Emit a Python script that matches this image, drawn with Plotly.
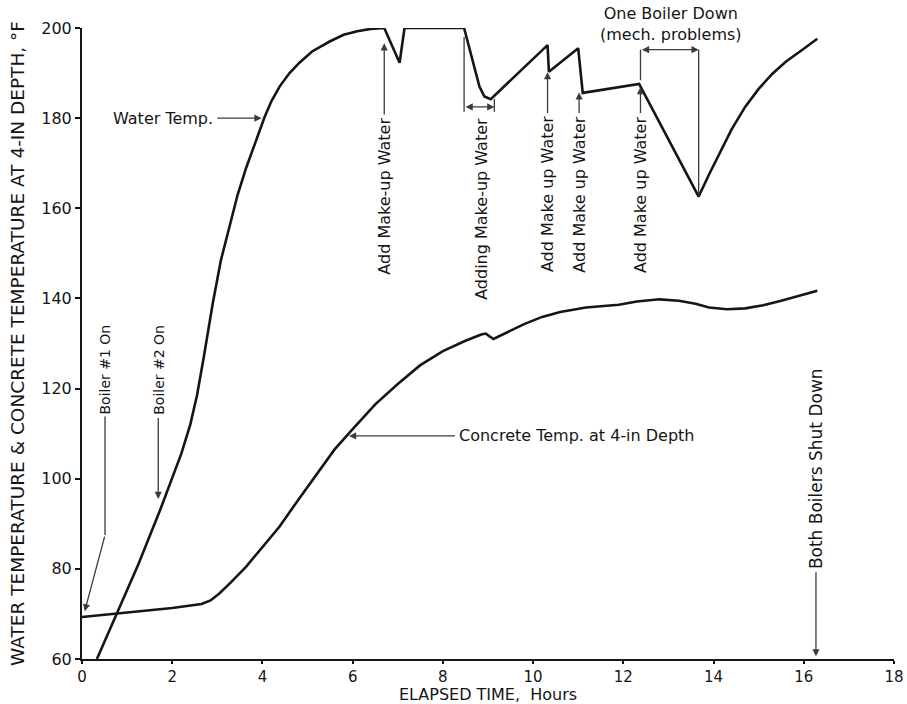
import plotly.graph_objects as go

# ---------------- data ----------------
water_time = [0.33, 0.77, 1.25, 1.73, 2.00, 2.20, 2.40, 2.55, 2.70, 2.90, 3.08, 3.27, 3.45,
              3.64, 3.85, 4.05, 4.20, 4.38, 4.60, 4.82, 5.10, 5.49, 5.80, 6.10, 6.40,
              6.70, 7.04, 7.15, 8.47, 8.58, 8.70, 8.81, 8.92, 9.06, 10.32, 10.35, 11.00,
              11.10, 12.35, 13.67, 13.90, 14.12, 14.40, 14.70, 15.00, 15.30, 15.60,
              16.00, 16.30]
water_temp = [60.0, 70.0, 81.0, 93.0, 100.0, 105.5, 112.0, 118.5, 127.0, 139.0, 148.5, 156.0, 163.0,
              169.0, 175.0, 180.3, 183.8, 187.0, 190.0, 192.3, 194.8, 197.0, 198.5, 199.3, 199.8,
              200.0, 192.3, 200.0, 200.0, 195.8, 190.8, 187.0, 184.8, 184.2, 196.2, 190.3, 195.5,
              185.6, 187.6, 162.6, 167.5, 172.0, 177.5, 182.5, 186.5, 189.8, 192.5,
              195.4, 197.6]

concrete_time = [0.0, 1.0, 2.0, 2.65, 2.85, 3.05, 3.30, 3.64, 4.00, 4.38, 4.80, 5.27,
                 5.60, 6.00, 6.50, 7.00, 7.50, 8.00, 8.50, 8.85, 8.95, 9.12, 9.40, 9.80,
                 10.20, 10.60, 11.17, 11.90, 12.30, 12.80, 13.23, 13.60, 13.90, 14.30,
                 14.70, 15.10, 15.50, 15.90, 16.30]
concrete_temp = [69.3, 70.3, 71.3, 72.2, 73.0, 74.6, 77.0, 80.5, 84.8, 89.4, 95.4, 101.9,
                 106.5, 111.0, 116.5, 121.0, 125.2, 128.3, 130.6, 132.0, 132.2, 131.0, 132.3, 134.3,
                 135.9, 137.0, 138.0, 138.6, 139.3, 139.8, 139.5, 138.8, 138.0, 137.6,
                 137.8, 138.5, 139.5, 140.6, 141.7]

x_tick_values = [0, 2, 4, 6, 8, 10, 12, 14, 16, 18]
x_tick_labels = ["0", "2", "4", "6", "8", "10", "12", "14", "16", "18"]
y_tick_values = [60, 80, 100, 120, 140, 160, 180, 200]
y_tick_labels = ["60", "80", "100", "120", "140", "160", "180", "200"]

# event markers (hours)
boiler1_on = 0.51
boiler2_on = 1.69
makeup_1 = 6.70
makeup_2_start, makeup_2_end = 8.47, 9.14
makeup_3 = 10.32
makeup_4 = 11.02
makeup_5 = 12.38
boiler_down_end = 13.67
shut_down = 16.27

FONT = "DejaVu Sans, Verdana, sans-serif"
INK = "#151515"
ARROW = "#3a3a3a"
Y0, Y1 = 60, 200

fig = go.Figure()
fig.add_trace(go.Scatter(x=water_time, y=water_temp, mode="lines",
                         line=dict(color=INK, width=2.6), name="Water Temp.",
                         showlegend=False, hoverinfo="skip"))
fig.add_trace(go.Scatter(x=concrete_time, y=concrete_temp, mode="lines",
                         line=dict(color=INK, width=2.6), name="Concrete Temp. at 4-in Depth",
                         showlegend=False, hoverinfo="skip"))


def text(x, y, s, angle=0, size=16, xanchor="center", yanchor="middle", paper_y=False):
    fig.add_annotation(x=x, y=(y - Y0) / (Y1 - Y0) if paper_y else y, xref="x",
                       yref="paper" if paper_y else "y", text=s, showarrow=False,
                       textangle=angle, xanchor=xanchor, yanchor=yanchor,
                       font=dict(family=FONT, size=size, color=INK))


def arrow(x0, y0, x1, y1, both=False):
    fig.add_annotation(x=x1, y=y1, ax=x0, ay=y0, xref="x", yref="y", axref="x", ayref="y",
                       text="", showarrow=True, arrowhead=2, arrowsize=1.1, arrowwidth=1.3,
                       arrowcolor=ARROW, arrowside="end+start" if both else "end",
                       startarrowhead=2, startarrowsize=1.1)


def seg(x0, y0, x1, y1):
    fig.add_shape(type="line", x0=x0, y0=y0, x1=x1, y1=y1, xref="x", yref="y",
                  line=dict(color=ARROW, width=1.3))


# Water temp label
text(2.95, 180, "Water Temp.", xanchor="right")
arrow(2.97, 180, 3.98, 180)

# Concrete label
text(8.32, 109.5, "Concrete Temp. at 4-in Depth", xanchor="left")
arrow(8.30, 109.5, 5.92, 109.5)

# Boiler #1 On
text(boiler1_on, 113.8, "Boiler #1 On", angle=-90, yanchor="bottom", size=14)
seg(boiler1_on, 113.8, boiler1_on, 87.5)
arrow(boiler1_on, 87.5, 0.06, 70.6)

# Boiler #2 On
text(boiler2_on, 113.8, "Boiler #2 On", angle=-90, yanchor="bottom", size=14)
arrow(boiler2_on, 113.8, boiler2_on, 95.5)

# Add Make-up Water (first)
text(makeup_1, 180.5, "Add Make-up Water", angle=-90, yanchor="top")
arrow(makeup_1, 180.5, makeup_1, 196.6)

# Adding Make-up Water (interval)
text((makeup_2_start + makeup_2_end) / 2 + 0.06, 180.5, "Adding Make-up Water",
     angle=-90, yanchor="top")
seg(makeup_2_start, 198.0, makeup_2_start, 181.4)
seg(makeup_2_end, 184.2, makeup_2_end, 181.4)
arrow(makeup_2_start, 182.5, makeup_2_end, 182.5, both=True)

# Add Make up Water (three)
for t, tip in [(makeup_3, 190.2), (makeup_4, 185.7), (makeup_5, 186.9)]:
    text(t, 180.8, "Add Make up Water", angle=-90, yanchor="top")
    arrow(t, 180.8, t, tip)

# One Boiler Down bracket
text(13.05, 200.8, "One Boiler Down<br>(mech. problems)", paper_y=True)
seg(makeup_5, 195.2, makeup_5, 188.4)
seg(boiler_down_end, 195.2, boiler_down_end, 162.8)
arrow(makeup_5, 195.2, boiler_down_end, 195.2, both=True)

# Both Boilers Shut Down
text(shut_down, 79.6, "Both Boilers Shut Down", angle=-90, yanchor="bottom", size=17)
arrow(shut_down, 79.6, shut_down, 60.6)

fig.update_layout(
    width=907, height=704,
    margin=dict(l=82, r=13, t=28, b=45),
    paper_bgcolor="white", plot_bgcolor="white",
    font=dict(family=FONT, color=INK),
    showlegend=False,
)
fig.update_xaxes(range=[0, 18], tickvals=x_tick_values, ticktext=x_tick_labels,
                 showgrid=False, zeroline=False, showline=True, linecolor=INK, linewidth=2,
                 ticks="outside", ticklen=3, tickwidth=1.5, tickcolor=INK,
                 tickfont=dict(family=FONT, size=15, color=INK),
                 title=dict(text="ELAPSED TIME,  Hours", standoff=1,
                            font=dict(family=FONT, size=16, color=INK)),
                 automargin=False)
fig.update_yaxes(range=[Y0, Y1], tickvals=y_tick_values, ticktext=y_tick_labels,
                 showgrid=False, zeroline=False, showline=True, linecolor=INK, linewidth=2,
                 ticks="outside", ticklen=5, tickwidth=1.5, tickcolor=INK,
                 tickfont=dict(family=FONT, size=16, color=INK),
                 title=dict(text="WATER TEMPERATURE & CONCRETE TEMPERATURE AT 4-IN DEPTH, °F",
                            standoff=12, font=dict(family=FONT, size=18.5, color=INK)),
                 automargin=False)

fig.write_html("out.html", config={"displayModeBar": False},
               post_script="document.body.style.margin='0px';")
